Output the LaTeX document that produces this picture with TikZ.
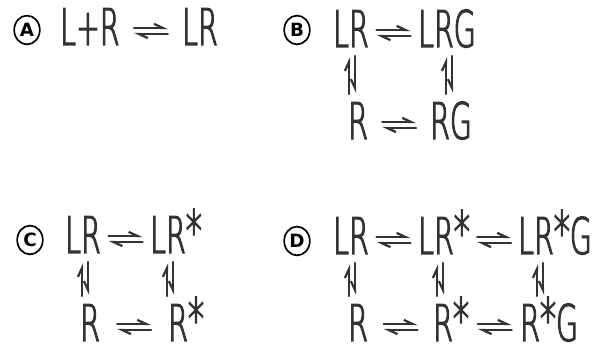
\documentclass[tikz,border=0pt]{standalone}
\usepackage{fontspec}
\setmainfont{DejaVuSans-ExtraLight.ttf}[FakeStretch=0.56, FakeBold=2.2]
\newfontfamily\tagfont{DejaVu Sans}
\usetikzlibrary{arrows.meta,calc,shapes.geometric}

\definecolor{ink}{HTML}{333333}
\newcommand{\rstar}{\raisebox{1pt}{\fontsize{41}{41}\selectfont *}}
\tikzset{
  species/.style={anchor=base west, inner sep=0pt, text=ink, font=\fontsize{36}{36}\selectfont},
  tag/.style={ellipse, draw=black, line width=1.2pt, minimum width=0.64cm, minimum height=0.72cm, inner sep=0pt,
    font=\tagfont\bfseries\fontsize{13}{13}\selectfont},
  harp/.style={draw=ink, line width=1.6pt, line cap=round,
    -{Straight Barb[harpoon, length=0.22cm, angle'=50]}},
  harpswap/.style={draw=ink, line width=1.6pt, line cap=round,
    -{Straight Barb[harpoon, swap, length=0.22cm, angle'=50]}}
}

\begin{document}
\begin{tikzpicture}[x=0.025cm, y=-0.025cm]
  \useasboundingbox (0,0) rectangle (594,352);
  % scheme A
  \node[tag] (tA) at (27,30) {A};
  \node[species] (a1) at (60,45) {L+R};
  \node[species] (a2) at (182,45) {LR};
  % scheme B
  \node[tag] (tB) at (297,30) {B};
  \node[species] (b1) at (333,47) {LR};
  \node[species] (b2) at (418,47) {LRG};
  \node[species] (b3) at (348,139) {R};
  \node[species] (b4) at (430,139) {RG};
  % scheme C
  \node[tag] (tC) at (30,240) {C};
  \node[species] (c1) at (65,253) {LR};
  \node[species] (c2) at (150,253) {LR\rstar};
  \node[species] (c3) at (80,341) {R};
  \node[species] (c4) at (168,341) {R\rstar};
  % scheme D
  \node[tag] (tD) at (297,241) {D};
  \node[species] (d1) at (333,254) {LR};
  \node[species] (d2) at (418,254) {LR\rstar};
  \node[species] (d3) at (518,254) {LR\rstar G};
  \node[species] (d4) at (348,341) {R};
  \node[species] (d5) at (433,341) {R\rstar};
  \node[species] (d6) at (520,341) {R\rstar G};

  % horizontal equilibria
  \foreach \a/\b in {a1/a2, b1/b2, b3/b4, c1/c2, c3/c4, d1/d2, d2/d3, d4/d5, d5/d6} {
    \draw[harp] ($(\a.base east)!.5!(\b.base west)+(-17,-17)$) -- ++(34,0);
    \draw[harp] ($(\a.base east)!.5!(\b.base west)+(17,-11)$) -- ++(-34,0);
  }
  % vertical equilibria
  \foreach \t/\b/\dx in {b1/b3/19, b2/b4/31, c1/c3/20, c2/c4/20, d1/d4/19, d2/d5/22, d3/d6/22} {
    \draw[harp] ($(\t.base west |- \b.base west)+(\dx-3,-45)$) -- ($(\t.base west)+(\dx-3,10)$);
    \draw[harpswap] ($(\t.base west)+(\dx+3,9)$) -- ($(\t.base west |- \b.base west)+(\dx+3,-46)$);
  }
\end{tikzpicture}
\end{document}
